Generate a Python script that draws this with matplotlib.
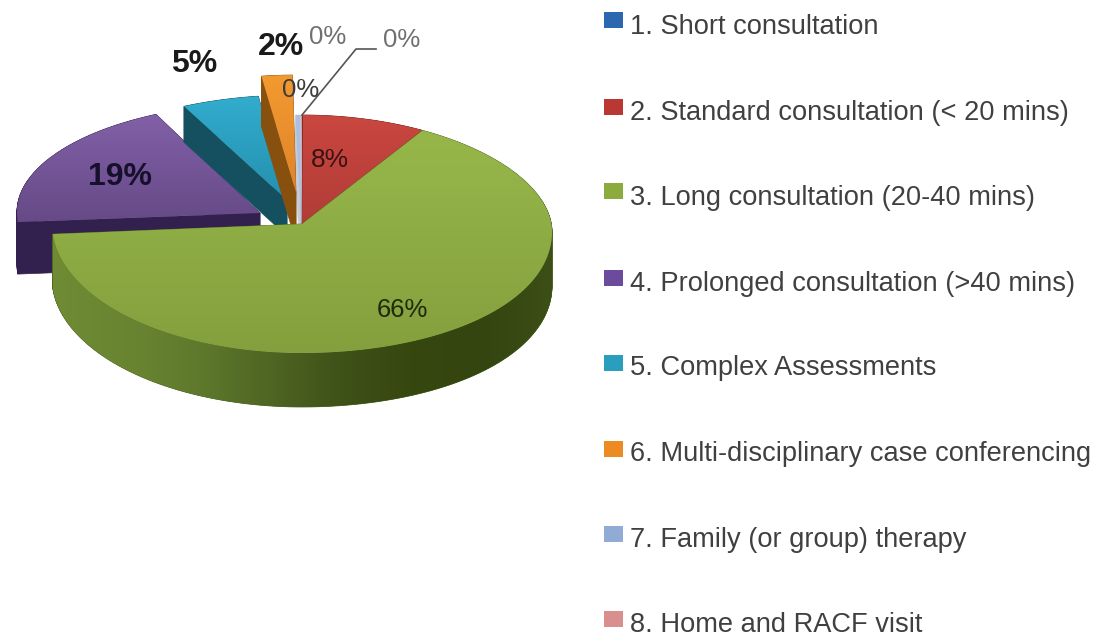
import numpy as np
import matplotlib
matplotlib.use("Agg")
import matplotlib.pyplot as plt
from matplotlib.patches import Polygon, Rectangle

plt.rcParams["font.family"] = ["Liberation Sans", "DejaVu Sans"]

# data (the slices labelled 0% are thin slivers)
categories = [
    "1. Short consultation",
    "2. Standard consultation (< 20 mins)",
    "3. Long consultation (20-40 mins)",
    "4. Prolonged consultation (>40 mins)",
    "5. Complex Assessments",
    "6. Multi-disciplinary case conferencing",
    "7. Family (or group) therapy",
    "8. Home and RACF visit",
]
values = [0.05, 8, 66, 19, 5, 2, 0.3, 0.05]
pct_labels = ["0%", "8%", "66%", "19%", "5%", "2%", "0%", "0%"]

legend_colors = ["#2c68b0", "#bb3733", "#8cab3e", "#6c4a9c", "#2a9fbd", "#ec8a24", "#8fabd6", "#d98f8e"]
top_colors = [("#3a74bb", "#2c68b0"), ("#c9473f", "#b23c38"), ("#97b74a", "#84a03e"),
              ("#8260a8", "#664a86"), ("#32acce", "#2490ae"), ("#f29a30", "#e0832a"),
              ("#a9c0e4", "#a9c0e4"), ("#d98f8e", "#d98f8e")]
side_colors = ["#1d3f6c", "#6d1f1c", "#4f6624", "#32204e", "#14505f", "#87500f", "#c4ccd6", "#c4ccd6"]
green_side = ["#6f8b34", "#6a8532", "#5f7a2c", "#4f6624", "#3f5218", "#36470f", "#34450f", "#3c4f16"]
offsets = [(0, 0), (0, 0), (0, 0), (-35, -12), (-7, -20), (-4, -40), (-1, 0), (0, 0)]
apex_offsets = [(0, 0), (0, 0), (0, 0), (-42, -11), (-15, -24), (-6, -32), (-1, 0), (0, 0)]
depths = [54, 54, 54, 52, 36, 50, 54, 54]

# picture geometry of the tilted pie, in pixels
CX, CY = 302, 224
RX, RY_BACK, RY_FRONT = 250, 109, 129


def rim(t_deg, dx=0, dy=0):
    t = np.radians(t_deg)
    c, s = np.cos(t), np.sin(t)
    ry = np.where(c >= 0, RY_BACK, RY_FRONT)
    # right edge of the pie sags a little in the picture
    sag = np.where(s > 0, 8 * s ** 2, 0)
    return np.column_stack([CX + dx + RX * s, CY + dy - ry * c + sag])


def fill_gradient(ax, pts, colors, vertical=True, z=1):
    # gradient image clipped to the polygon
    rgb = np.array([matplotlib.colors.to_rgb(c) for c in colors])
    pos = np.linspace(0, 1, len(colors))
    u = np.linspace(0, 1, 256)
    line = np.column_stack([np.interp(u, pos, rgb[:, i]) for i in range(3)])
    img = line[:, None, :] if vertical else line[None, :, :]
    x0, x1, y0, y1 = pts[:, 0].min(), pts[:, 0].max(), pts[:, 1].min(), pts[:, 1].max()
    im = ax.imshow(img, extent=(x0, x1, y1, y0), aspect="auto", zorder=z, interpolation="bilinear")
    poly = Polygon(pts, closed=True, facecolor="none", edgecolor="none", transform=ax.transData)
    ax.add_patch(poly)
    im.set_clip_path(poly)


fig = plt.figure(figsize=(11, 6.37), dpi=100)
ax = fig.add_axes([0, 0, 1, 1])

total = sum(values)
edges = np.concatenate([[0], np.cumsum(values) / total * 360])

# back slices first, the big green one goes last so it covers them
order = [0, 7, 6, 1, 3, 4, 5, 2]
for z, i in enumerate(order):
    z = 2 + z * 3
    t0, t1 = edges[i], edges[i + 1]
    dx, dy = offsets[i]
    ax_dx, ax_dy = apex_offsets[i]
    ts = np.linspace(t0, t1, max(int(t1 - t0) * 2, 2))
    outer = rim(ts, dx, dy)
    top = np.vstack([[CX + ax_dx, CY + ax_dy], outer])
    down = np.array([0, depths[i]])
    for a, b in zip(top, np.roll(top, -1, axis=0)):
        quad = [a, b, b + down, a + down]
        ax.add_patch(Polygon(quad, closed=True, facecolor=side_colors[i], edgecolor=side_colors[i],
                             linewidth=0.5, zorder=z))
    if i == 2:
        # curved front wall of the green slice, light on the left and dark on the right
        front = ts[(ts >= 90)]
        wall = np.vstack([rim(front), rim(front[::-1]) + down])
        fill_gradient(ax, wall, green_side, vertical=False, z=z + 1)
    fill_gradient(ax, top, top_colors[i], z=z + 2)

label_font = {"ha": "center", "va": "center", "zorder": 60}
ax.text(330, 160, pct_labels[1], fontsize=19, color="#3a1212", **label_font)
ax.text(402, 310, pct_labels[2], fontsize=18.5, color="#1f2a0c", **label_font)
ax.text(120, 177, pct_labels[3], fontsize=23, color="#17102c", fontweight="bold", **label_font)
ax.text(194, 64, pct_labels[4], fontsize=23, color="#1a1a1a", fontweight="bold", **label_font)
ax.text(281, 47, pct_labels[5], fontsize=23, color="#1a1a1a", fontweight="bold", **label_font)
ax.text(328, 37, pct_labels[0], fontsize=18.5, color="#707070", **label_font)
ax.text(402, 40, pct_labels[7], fontsize=18.5, color="#707070", **label_font)
ax.text(301, 90, pct_labels[6], fontsize=18.5, color="#3c3c3c", **label_font)
ax.plot([376, 356, 302], [49, 49, 115], color="#555555", lw=1.2, zorder=59)

# legend
swatch_y = [20, 107, 191, 278, 363, 449, 534, 619]
text_y = [27, 113, 198, 284, 368, 454, 540, 625]
for name, color, sy, ty in zip(categories, legend_colors, swatch_y, text_y):
    ax.add_patch(Rectangle((604, sy - 8), 19, 16, facecolor=color, edgecolor="none", zorder=5))
    ax.text(630, ty, name, fontsize=19.6, color="#404040", ha="left", va="center")

ax.set_xlim(0, 1100)
ax.set_ylim(637, 0)
ax.axis("off")
fig.savefig("out.png", dpi=100, facecolor="white")
